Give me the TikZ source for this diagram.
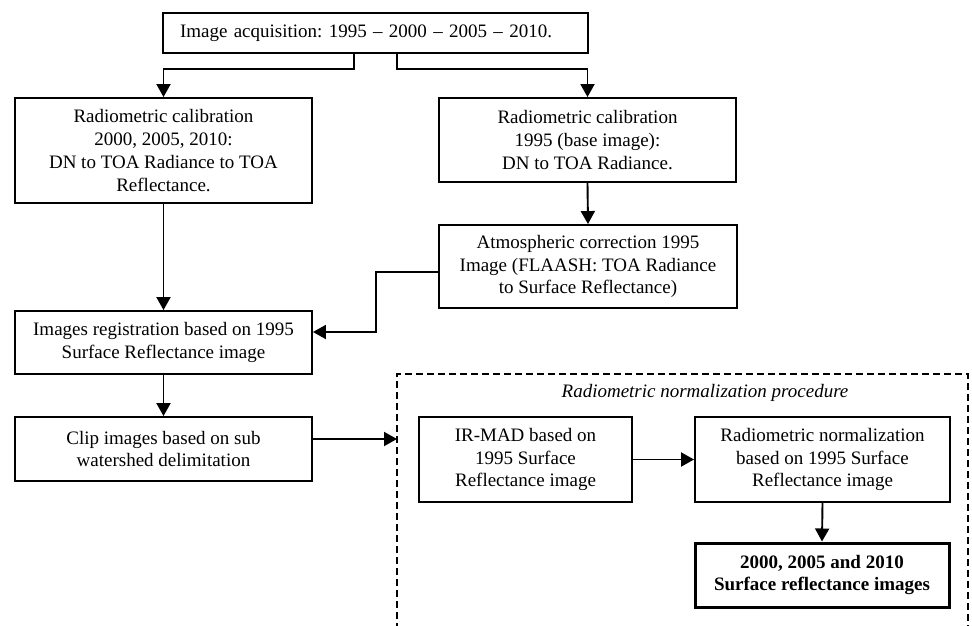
\documentclass[tikz,border=0pt]{standalone}
\usepackage{fontspec}
\setmainfont{Liberation Serif}
\usetikzlibrary{arrows.meta}

\begin{document}
\frenchspacing
\begin{tikzpicture}[x=1pt, y=-1pt,
    box/.style={draw, line width=1.9pt, align=center, inner sep=2pt,
        font=\fontsize{19}{22.7}\selectfont},
    arr/.style={line width=1.9pt, -{Triangle[width=14pt,length=13pt]}}]
    \useasboundingbox (0,0) rectangle (972,626);

    % Acquisition
    \node[box, minimum width=425pt, minimum height=40pt, inner xsep=17pt,
        text width=391pt, align=left] (acq) at (375.5,33)
        {Image acquisition: 1995 -- 2000 -- 2005 -- 2010.};

    % Radiometric calibration
    \node[box, minimum width=297pt, minimum height=105pt] (calB) at (163.5,150.5)
        {Radiometric calibration\\2000, 2005, 2010:\\DN to TOA Radiance to TOA\\Reflectance.};
    \node[box, minimum width=297pt, minimum height=84pt] (calA) at (587.5,140)
        {Radiometric calibration\\1995 (base image):\\DN to TOA Radiance.};

    % Atmospheric correction
    \node[box, minimum width=298pt, minimum height=83pt] (atm) at (588,266.5)
        {Atmospheric correction 1995\\Image (FLAASH: TOA Radiance\\to Surface Reflectance)};

    % Registration and clipping
    \node[box, minimum width=297pt, minimum height=63pt] (reg) at (163.5,342.5)
        {Images registration based on 1995\\Surface Reflectance image};
    \node[box, minimum width=297pt, minimum height=64pt] (clip) at (163.5,449)
        {Clip images based on sub\\watershed delimitation};

    % Normalization procedure
    \coordinate (frameNW) at (397,374);
    \coordinate (frameNE) at (968,374);
    \draw[line width=2pt, dash pattern=on 7pt off 4pt]
        (frameNW |- 0,630) -- (frameNW) -- (frameNE) -- (frameNE |- 0,630);
    \node[font=\fontsize{19}{22.7}\selectfont\itshape] (title) at (705,393)
        {Radiometric normalization procedure};

    \node[box, minimum width=213pt, minimum height=85pt] (mad) at (525.5,459.5)
        {IR-MAD based on\\1995 Surface\\Reflectance image};
    \node[box, minimum width=255pt, minimum height=85pt] (norm) at (822.5,459.5)
        {Radiometric normalization\\based on 1995 Surface\\Reflectance image};
    \node[box, line width=3pt, minimum width=254pt, minimum height=64pt,
        font=\fontsize{19}{22.7}\selectfont\bfseries] (out) at (822,575)
        {2000, 2005 and 2010\\Surface reflectance images};

    % Connectors
    \draw[arr] ([xshift=-21.5pt]acq.south) -- ++(0,15) -| (calB.north);
    \draw[arr] ([xshift=21.5pt]acq.south) -- ++(0,15) -| (calA.north);
    \draw[arr] (calA.south) -- (atm.north);
    \draw[arr] ([yshift=-5.5pt]atm.west) -- ++(-62,0) |- ([yshift=10.5pt]reg.east);
    \draw[arr] (calB.south) -- (reg.north);
    \draw[arr] (reg.south) -- (clip.north);
    \draw[arr] ([yshift=10pt]clip.east) -- ([yshift=10pt]clip.east -| frameNW);
    \draw[arr] (mad.east) -- (norm.west);
    \draw[arr] (norm.south) -- (out.north);
\end{tikzpicture}
\end{document}
